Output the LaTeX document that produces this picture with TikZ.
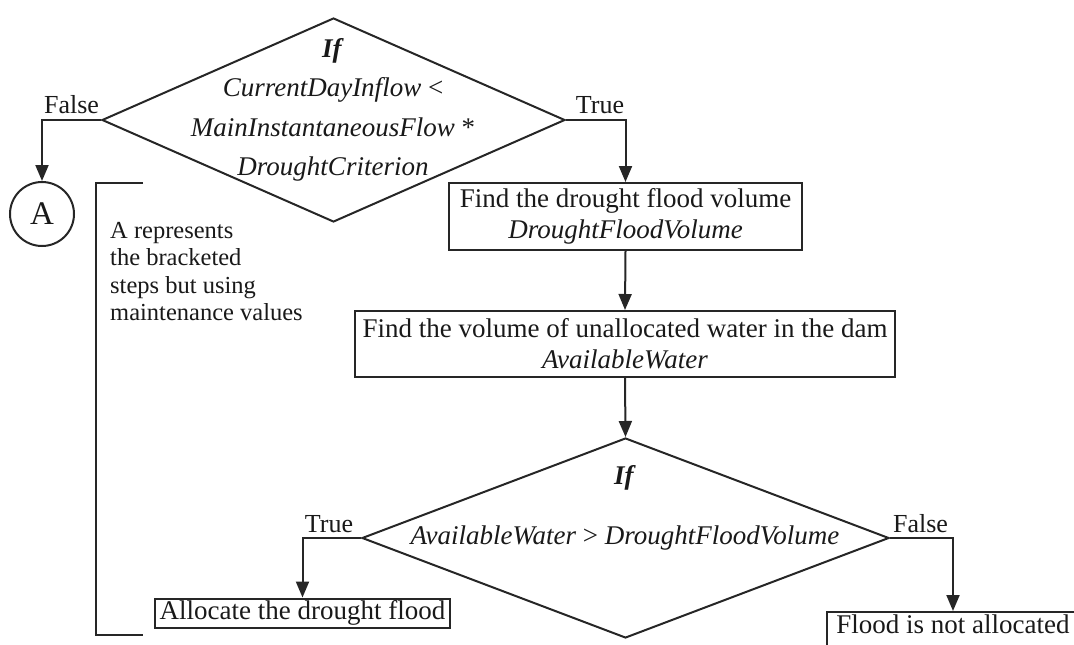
\documentclass[tikz,border=0pt]{standalone}
\usepackage{fontspec}
\newfontfamily\tnr{Liberation Serif}
\usetikzlibrary{shapes.geometric,arrows.meta}
\begin{document}
\begin{tikzpicture}[x=1pt,y=-1pt,
  ink/.style={draw=black!85, line width=2pt},
  decision/.style={ink, diamond, inner sep=0pt},
  stepbox/.style={ink, rectangle, align=center, inner sep=0pt, text=black!90,
    font={\tnr\fontsize{27}{31}\selectfont}},
  flow/.style={ink, -{Triangle[length=16pt,width=13pt]}},
  branch/.style={text=black!90, font={\tnr\fontsize{26}{30}\selectfont}, anchor=base, inner sep=0pt},
  condtext/.style={text=black!90, align=center, inner sep=0pt},
]
\useasboundingbox (0,0) rectangle (1074,645);
\clip (0,0) rectangle (1074,645);

% first test: today's inflow against the drought threshold
\node[decision, minimum width=463pt, minimum height=204pt] (d1) at (333.5,120) {};
\node[condtext, font={\tnr\fontsize{27}{39.5}\selectfont}] (d1txt) at (333,110)
  {\textbf{\textit{If}}\\ \textit{CurrentDayInflow} <\\ \textit{MainInstantaneousFlow} *\\ \textit{DroughtCriterion}};

% steps of the drought branch
\node[stepbox, minimum width=353pt, minimum height=67pt] (b1) at (625.5,216.5)
  {Find the drought flood volume\\\textit{DroughtFloodVolume}};
\node[stepbox, minimum width=540pt, minimum height=66pt] (b2) at (625,344)
  {Find the volume of unallocated water in the dam\\\textit{AvailableWater}};

% second test: enough water for the flood?
\node[decision, minimum width=527pt, minimum height=200pt] (d2) at (625.5,538) {};
\node[condtext, font={\tnr\fontsize{27}{31}\selectfont}] (d2if) at (625,478) {\textbf{\textit{If}}};
\node[condtext, font={\tnr\fontsize{27}{31}\selectfont}] (d2txt) at (625,538)
  {\textit{AvailableWater} > \textit{DroughtFloodVolume}};

\node[stepbox, minimum width=295pt, minimum height=29pt] (alloc) at (302.5,613)
  {Allocate the drought flood};
\node[stepbox, minimum width=252pt, minimum height=38pt, text height=0.7em, text depth=0.25em]
  (noflood) at (953,631) {Flood is not allocated};

% connector to the maintenance branch
\node[ink, circle, minimum size=64pt, inner sep=0pt, text=black!90,
  font={\tnr\fontsize{33}{36}\selectfont}] (A) at (42,214) {A};

\node[anchor=north west, align=left, inner sep=0pt, text=black!90,
  font={\tnr\fontsize{24.5}{27.5}\selectfont}] (note) at (110,222)
  {A represents\\the bracketed\\steps but using\\maintenance values};

% bracket around the repeated steps
\coordinate (brTop) at (143,183);
\coordinate (brBot) at (143,635);
\draw[ink] (brTop) -- (96,183) -- (96,635) -- (brBot);

% flow lines
\draw[flow] (d1.west) -| (A.north);
\draw[flow] (d1.east) -| (b1.north);
\draw[flow] (b1.south) -- (b2.north);
\draw[flow] (b2.south) -- (d2.north);
\draw[flow] (d2.west) -| (alloc.north);
\draw[flow] (d2.east) -| (noflood.north);

% branch labels
\node[branch] (f1) at (71.5,113) {False};
\node[branch] (t1) at (600,113) {True};
\node[branch] (t2) at (329,532) {True};
\node[branch] (f2) at (920.5,532) {False};
\end{tikzpicture}
\end{document}
